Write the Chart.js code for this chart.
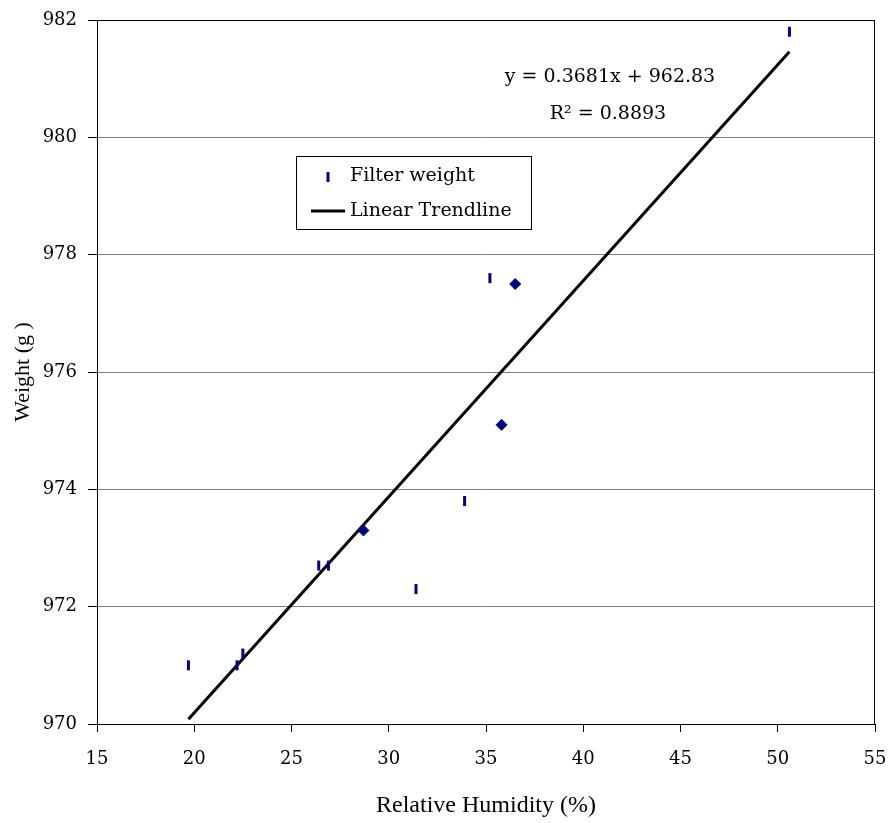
<!DOCTYPE html>
<html>
<head>
<meta charset="utf-8">
<script src="https://cdn.jsdelivr.net/npm/chart.js@4"></script>
<style>
  html, body { margin: 0; padding: 0; background: #fff; }
  #box { width: 888px; height: 823px; }
</style>
</head>
<body>
<div id="box"><canvas id="grafico" width="888" height="823"></canvas></div>
<script>
// dados
const umidade = [19.7, 22.2, 22.5, 26.4, 26.9, 28.7, 31.4, 33.9, 35.2, 36.5, 35.8, 50.6];
const peso    = [971.0, 971.0, 971.2, 972.7, 972.7, 973.3, 972.3, 973.8, 977.6, 977.5, 975.1, 981.8];
const estilos = ['line', 'line', 'line', 'line', 'line', 'rectRot', 'line', 'line', 'line', 'rectRot', 'rectRot', 'line'];

// linha de tendencia (pontas)
const tendX = [19.7, 50.6];
const tendY = [970.08, 981.46];

const xTicks = [15, 20, 25, 30, 35, 40, 45, 50, 55];
const yTicks = [970, 972, 974, 976, 978, 980, 982];

const equacao = 'y = 0.3681x + 962.83';
const r2 = 'R² = 0.8893';

const azul = '#000080';
const serifTick = "'DejaVu Serif', serif";
const serifTitulo = "'Liberation Serif', 'Times New Roman', serif";

// moldura, legenda e equacao
const extras = {
    id: 'extras',
    afterDraw(chart) {
        const { ctx, chartArea: a } = chart;
        ctx.save();
        ctx.strokeStyle = '#000';
        ctx.lineWidth = 1;
        ctx.strokeRect(a.left + 0.5, a.top + 0.5, a.right - a.left - 1, a.bottom - a.top);

        // legenda
        const lx = 296, ly = 156, lw = 235, lh = 73;
        ctx.fillStyle = '#fff';
        ctx.fillRect(lx, ly, lw, lh);
        ctx.strokeRect(lx + 0.5, ly + 0.5, lw, lh);

        ctx.strokeStyle = azul;
        ctx.lineWidth = 3;
        ctx.beginPath();
        ctx.moveTo(328, 172);
        ctx.lineTo(328, 182);
        ctx.stroke();

        ctx.strokeStyle = '#000';
        ctx.lineWidth = 3;
        ctx.beginPath();
        ctx.moveTo(311, 211);
        ctx.lineTo(345, 211);
        ctx.stroke();

        ctx.fillStyle = '#000';
        ctx.font = "19px " + serifTick;
        ctx.textBaseline = 'middle';
        ctx.textAlign = 'left';
        ctx.fillText('Filter weight', 350, 176);
        ctx.fillText('Linear Trendline', 350, 211);

        // equacao
        ctx.textAlign = 'center';
        ctx.fillText(equacao, 610, 77);
        ctx.fillText(r2, 608, 114);
        ctx.restore();
    }
};

const ctx = document.getElementById('grafico').getContext('2d');
new Chart(ctx, {
    type: 'scatter',
    data: {
        datasets: [{
            label: 'Filter weight',
            data: umidade.map((x, i) => ({ x: x, y: peso[i] })),
            pointStyle: estilos,
            pointRadius: estilos.map(s => s === 'line' ? 5 : 5.5),
            rotation: estilos.map(s => s === 'line' ? 90 : 0),
            pointBorderWidth: estilos.map(s => s === 'line' ? 3 : 1),
            borderColor: azul,
            backgroundColor: azul,
            order: 0
        }, {
            label: 'Linear Trendline',
            type: 'line',
            data: tendX.map((x, i) => ({ x: x, y: tendY[i] })),
            borderColor: '#000',
            borderWidth: 3,
            pointRadius: 0,
            fill: false,
            order: 1
        }]
    },
    options: {
        responsive: false,
        animation: false,
        layout: { padding: { top: 20, right: 13, left: 0, bottom: 0 } },
        plugins: {
            legend: { display: false },
            tooltip: { enabled: false }
        },
        scales: {
            x: {
                type: 'linear',
                min: 15,
                max: 55,
                afterFit(s) { s.height = 99; s.paddingRight = 0; s.paddingLeft = 0; },
                afterBuildTicks(s) { s.ticks = xTicks.map(v => ({ value: v })); },
                grid: {
                    drawOnChartArea: false,
                    tickLength: 8,
                    tickColor: '#000'
                },
                border: { color: '#000', width: 1 },
                ticks: {
                    padding: 17,
                    color: '#000',
                    font: { family: serifTick, size: 18 }
                },
                title: {
                    display: true,
                    text: 'Relative Humidity (%)',
                    color: '#000',
                    padding: { top: 0, bottom: 3 },
                    font: { family: serifTitulo, size: 24 }
                }
            },
            y: {
                type: 'linear',
                min: 970,
                max: 982,
                afterFit(s) { s.width = 97; s.paddingTop = 0; s.paddingBottom = 0; },
                afterBuildTicks(s) { s.ticks = yTicks.map(v => ({ value: v })); },
                grid: {
                    color: '#808080',
                    lineWidth: 1,
                    tickLength: 9,
                    tickColor: '#000'
                },
                border: { color: '#000', width: 1 },
                ticks: {
                    padding: 11,
                    color: '#000',
                    font: { family: serifTick, size: 18 }
                },
                title: {
                    display: true,
                    text: 'Weight (g )',
                    color: '#000',
                    padding: { top: 10, bottom: 0 },
                    font: { family: serifTitulo, size: 22 }
                }
            }
        }
    },
    plugins: [extras]
});
</script>
</body>
</html>
